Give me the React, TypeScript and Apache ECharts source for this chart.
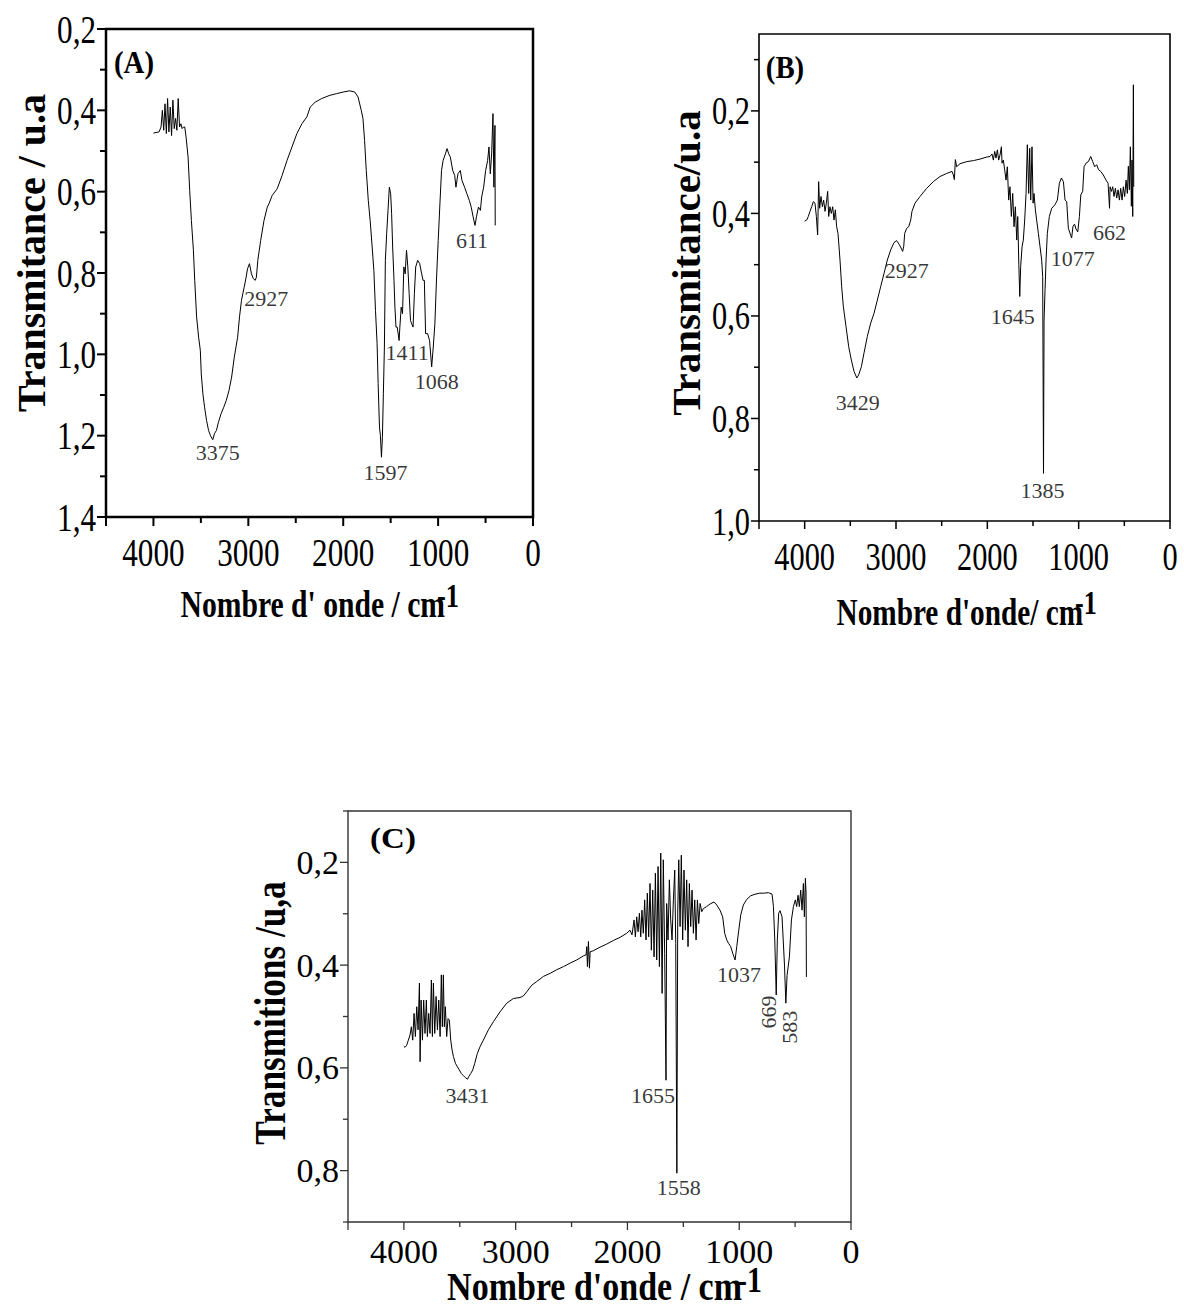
import { useEffect, useRef } from "react";
import * as echarts from "echarts";

// Wavenumber axis (cm-1), shared by the three spectra
const xMajorTicks = [0, 1000, 2000, 3000, 4000];
const xMinorTicks = [500, 1500, 2500, 3500];
const X_MAX = 4500;

// Transmittance axes
const yMajorA = [0.2, 0.4, 0.6, 0.8, 1.0, 1.2, 1.4];
const yMinorA = [0.3, 0.5, 0.7, 0.9, 1.1, 1.3];
const yMajorB = [0.2, 0.4, 0.6, 0.8, 1.0];
const yMinorB = [0.1, 0.3, 0.5, 0.7, 0.9];
const yMajorC = [0.2, 0.4, 0.6, 0.8];
const yMinorC = [0.1, 0.3, 0.5, 0.7, 0.9];

// Spectrum (A): [wavenumber, transmittance]
const spectrumA: [number, number][] = [
  [4000, 0.456], [3941, 0.453], [3920, 0.441], [3906, 0.4], [3892, 0.449], [3878, 0.384], [3864, 0.457],
  [3851, 0.371], [3837, 0.453], [3823, 0.392], [3809, 0.462], [3795, 0.375], [3781, 0.445], [3767, 0.42],
  [3753, 0.449], [3739, 0.371], [3725, 0.441], [3711, 0.433], [3698, 0.445], [3684, 0.441], [3670, 0.441],
  [3656, 0.466], [3635, 0.515], [3618, 0.597], [3600, 0.671], [3579, 0.744], [3565, 0.818], [3545, 0.908],
  [3524, 0.958], [3506, 0.99], [3496, 1.048], [3479, 1.097], [3461, 1.13], [3440, 1.163], [3419, 1.187],
  [3399, 1.2], [3375, 1.21], [3357, 1.195], [3336, 1.187], [3315, 1.167], [3287, 1.146], [3259, 1.13],
  [3232, 1.113], [3204, 1.089], [3176, 1.056], [3148, 1.007], [3113, 0.958], [3093, 0.908], [3072, 0.867],
  [3044, 0.835], [3023, 0.81], [3009, 0.79], [2988, 0.777], [2967, 0.802], [2947, 0.814], [2927, 0.818],
  [2915, 0.81], [2900, 0.769], [2870, 0.72], [2835, 0.671], [2800, 0.638], [2783, 0.63], [2748, 0.609],
  [2696, 0.593], [2644, 0.56], [2592, 0.523], [2540, 0.49], [2488, 0.457], [2435, 0.433], [2383, 0.416],
  [2348, 0.392], [2296, 0.38], [2227, 0.371], [2140, 0.363], [2070, 0.359], [2001, 0.355], [1931, 0.352],
  [1879, 0.355], [1844, 0.367], [1810, 0.4], [1792, 0.42], [1775, 0.474], [1757, 0.548], [1736, 0.621],
  [1716, 0.671], [1695, 0.736], [1677, 0.794], [1660, 0.892], [1643, 0.974], [1632, 1.072], [1618, 1.179],
  [1608, 1.2], [1597, 1.253], [1587, 1.204], [1577, 1.097], [1566, 0.982], [1556, 0.769], [1542, 0.703],
  [1528, 0.646], [1514, 0.589], [1500, 0.605], [1490, 0.654], [1479, 0.736], [1465, 0.818], [1455, 0.884],
  [1444, 0.933], [1431, 0.933], [1411, 0.966], [1403, 0.933], [1389, 0.884], [1375, 0.9], [1361, 0.785],
  [1347, 0.802], [1333, 0.744], [1319, 0.785], [1305, 0.851], [1291, 0.917], [1278, 0.925], [1264, 0.933],
  [1250, 0.851], [1236, 0.785], [1215, 0.769], [1194, 0.777], [1173, 0.802], [1159, 0.818], [1145, 0.818],
  [1132, 0.949], [1111, 0.949], [1090, 0.966], [1068, 1.031], [1051, 0.982], [1034, 0.925], [1016, 0.81],
  [999, 0.72], [981, 0.63], [964, 0.548], [947, 0.523], [923, 0.507], [906, 0.494], [888, 0.507],
  [871, 0.515], [846, 0.548], [825, 0.56], [812, 0.589], [791, 0.556], [766, 0.548], [749, 0.572],
  [721, 0.589], [697, 0.605], [672, 0.621], [651, 0.638], [631, 0.662], [611, 0.683], [596, 0.662],
  [575, 0.638], [554, 0.646], [541, 0.613], [520, 0.589], [499, 0.548], [478, 0.523], [464, 0.49],
  [450, 0.556], [436, 0.507], [422, 0.408], [412, 0.589], [401, 0.437], [398, 0.683],
];

// Spectrum (B)
const spectrumB: [number, number][] = [
  [4000, 0.415], [3978, 0.413], [3960, 0.406], [3942, 0.396], [3923, 0.387], [3905, 0.377], [3887, 0.38],
  [3872, 0.406], [3858, 0.442], [3847, 0.338], [3836, 0.39], [3821, 0.367], [3806, 0.387], [3792, 0.374],
  [3777, 0.396], [3763, 0.38], [3748, 0.357], [3737, 0.406], [3723, 0.387], [3708, 0.4], [3693, 0.387],
  [3679, 0.413], [3664, 0.393], [3650, 0.426], [3635, 0.439], [3613, 0.491], [3595, 0.543], [3577, 0.581],
  [3547, 0.621], [3518, 0.66], [3489, 0.686], [3460, 0.708], [3429, 0.721], [3409, 0.715], [3379, 0.699],
  [3350, 0.672], [3314, 0.64], [3277, 0.614], [3241, 0.595], [3204, 0.569], [3168, 0.543], [3131, 0.517],
  [3095, 0.491], [3058, 0.471], [3022, 0.457], [2993, 0.453], [2963, 0.461], [2927, 0.474], [2915, 0.464],
  [2905, 0.439], [2883, 0.429], [2861, 0.426], [2839, 0.413], [2825, 0.396], [2792, 0.38], [2737, 0.367],
  [2664, 0.351], [2591, 0.338], [2518, 0.328], [2445, 0.322], [2387, 0.318], [2372, 0.325], [2361, 0.334],
  [2350, 0.295], [2336, 0.309], [2299, 0.303], [2226, 0.299], [2153, 0.297], [2080, 0.294], [2007, 0.29],
  [1970, 0.289], [1949, 0.284], [1934, 0.296], [1919, 0.279], [1905, 0.292], [1890, 0.276], [1876, 0.296],
  [1861, 0.286], [1846, 0.27], [1839, 0.302], [1825, 0.296], [1810, 0.315], [1795, 0.335], [1781, 0.309],
  [1766, 0.374], [1752, 0.348], [1737, 0.406], [1722, 0.361], [1708, 0.426], [1693, 0.387], [1678, 0.452],
  [1667, 0.406], [1655, 0.5], [1645, 0.562], [1635, 0.504], [1620, 0.465], [1606, 0.452], [1591, 0.413],
  [1576, 0.361], [1562, 0.266], [1547, 0.361], [1536, 0.273], [1525, 0.374], [1511, 0.27], [1499, 0.38],
  [1489, 0.361], [1474, 0.393], [1460, 0.413], [1441, 0.439], [1423, 0.465], [1405, 0.491], [1394, 0.523],
  [1385, 0.907], [1379, 0.608], [1368, 0.549], [1357, 0.491], [1343, 0.439], [1321, 0.406], [1295, 0.39],
  [1259, 0.383], [1233, 0.374], [1211, 0.341], [1189, 0.331], [1167, 0.338], [1149, 0.374], [1131, 0.377],
  [1113, 0.429], [1077, 0.448], [1062, 0.425], [1045, 0.421], [1030, 0.43], [1010, 0.436], [992, 0.406],
  [977, 0.364], [956, 0.357], [941, 0.309], [919, 0.302], [894, 0.299], [868, 0.289], [846, 0.299],
  [824, 0.309], [803, 0.305], [781, 0.315], [759, 0.318], [730, 0.325], [700, 0.335], [678, 0.341],
  [662, 0.39], [656, 0.348], [641, 0.357], [627, 0.348], [613, 0.367], [598, 0.351], [583, 0.37],
  [569, 0.354], [554, 0.374], [540, 0.351], [525, 0.374], [511, 0.348], [496, 0.367], [481, 0.335],
  [467, 0.361], [456, 0.308], [445, 0.354], [434, 0.27], [423, 0.386], [416, 0.296], [408, 0.406],
  [401, 0.149], [397, 0.348],
];

// Spectrum (C)
const spectrumC: [number, number][] = [
  [4000, 0.558], [3990, 0.56], [3975, 0.556], [3960, 0.546], [3945, 0.536], [3933, 0.52], [3921, 0.546],
  [3909, 0.494], [3897, 0.539], [3885, 0.481], [3873, 0.526], [3861, 0.435], [3855, 0.588], [3846, 0.468],
  [3834, 0.546], [3823, 0.468], [3811, 0.533], [3799, 0.468], [3790, 0.539], [3778, 0.494], [3766, 0.533],
  [3754, 0.429], [3745, 0.539], [3736, 0.435], [3724, 0.533], [3712, 0.461], [3700, 0.526], [3688, 0.468],
  [3676, 0.539], [3665, 0.419], [3656, 0.52], [3647, 0.419], [3638, 0.52], [3629, 0.481], [3617, 0.539],
  [3605, 0.504], [3593, 0.507], [3581, 0.546], [3569, 0.565], [3557, 0.578], [3539, 0.591], [3521, 0.598],
  [3504, 0.604], [3486, 0.611], [3468, 0.615], [3450, 0.619], [3431, 0.622], [3420, 0.617], [3402, 0.611],
  [3384, 0.604], [3366, 0.591], [3343, 0.572], [3319, 0.559], [3289, 0.546], [3244, 0.526], [3199, 0.51],
  [3140, 0.491], [3080, 0.474], [3020, 0.465], [2961, 0.463], [2931, 0.46], [2901, 0.452], [2856, 0.439],
  [2812, 0.432], [2752, 0.422], [2692, 0.416], [2633, 0.409], [2573, 0.403], [2513, 0.396], [2454, 0.39],
  [2394, 0.382], [2370, 0.38], [2364, 0.364], [2358, 0.403], [2349, 0.354], [2340, 0.406], [2334, 0.374],
  [2305, 0.372], [2245, 0.365], [2185, 0.359], [2126, 0.352], [2066, 0.346], [2007, 0.338], [1977, 0.332],
  [1959, 0.341], [1941, 0.312], [1929, 0.345], [1917, 0.306], [1905, 0.335], [1893, 0.299], [1881, 0.345],
  [1870, 0.293], [1858, 0.338], [1846, 0.273], [1834, 0.351], [1822, 0.26], [1810, 0.345], [1798, 0.241],
  [1786, 0.371], [1774, 0.254], [1762, 0.384], [1750, 0.221], [1738, 0.39], [1726, 0.208], [1714, 0.403],
  [1702, 0.182], [1690, 0.455], [1679, 0.195], [1667, 0.377], [1655, 0.624], [1649, 0.28], [1637, 0.351],
  [1625, 0.234], [1613, 0.312], [1601, 0.351], [1589, 0.273], [1577, 0.215], [1568, 0.358], [1558, 0.805],
  [1550, 0.299], [1541, 0.195], [1529, 0.325], [1518, 0.186], [1506, 0.351], [1494, 0.215], [1482, 0.332],
  [1470, 0.234], [1458, 0.364], [1446, 0.241], [1434, 0.325], [1422, 0.254], [1410, 0.338], [1398, 0.273],
  [1386, 0.351], [1374, 0.273], [1362, 0.319], [1350, 0.28], [1335, 0.296], [1321, 0.29], [1291, 0.286],
  [1261, 0.281], [1225, 0.277], [1201, 0.283], [1172, 0.293], [1148, 0.306], [1130, 0.338], [1112, 0.351],
  [1094, 0.358], [1076, 0.364], [1058, 0.377], [1037, 0.39], [1022, 0.364], [1004, 0.332], [986, 0.302],
  [963, 0.283], [933, 0.272], [897, 0.265], [859, 0.262], [819, 0.26], [784, 0.26], [739, 0.259],
  [706, 0.262], [694, 0.286], [682, 0.351], [669, 0.458], [659, 0.351], [647, 0.299], [635, 0.294],
  [617, 0.306], [595, 0.4], [583, 0.474], [572, 0.42], [551, 0.384], [533, 0.312], [515, 0.286],
  [498, 0.273], [486, 0.286], [474, 0.264], [462, 0.286], [450, 0.254], [438, 0.293], [426, 0.241],
  [417, 0.306], [408, 0.231], [402, 0.26], [399, 0.423],
];

// Assigned bands: wavenumber and transmittance at the band
const peakWnA = [3375, 2927, 1597, 1411, 1068, 611];
const peakTA = [1.21, 0.818, 1.253, 0.966, 1.031, 0.683];
const peakWnB = [3429, 2927, 1645, 1385, 1077, 662];
const peakTB = [0.721, 0.474, 0.562, 0.907, 0.448, 0.39];
const peakWnC = [3431, 1655, 1558, 1037, 669, 583];
const peakTC = [0.622, 0.624, 0.805, 0.39, 0.458, 0.474];

const SERIF = "'Liberation Serif', 'Times New Roman', serif";

type PanelStyle = {
  grid: { left: number; top: number; width: number; height: number };
  yMin: number;
  yMax: number;
  yMajor: number[];
  yMinor: number[];
  data: [number, number][];
  peakWn: number[];
  peakT: number[];
  labelOffsets: [number, number][];
  labelRotate: number[];
  frameColor: string;
  frameWidth: number;
  tickWidth: number;
  majorLen: number;
  minorLen: number;
  tickFont: number;
  tickScale: number;
  xLabelGap: number;
  yLabelGap: number;
  peakFont: number;
};

const panels: PanelStyle[] = [
  {
    grid: { left: 106, top: 29, width: 427, height: 488 },
    yMin: 0.2, yMax: 1.4, yMajor: yMajorA, yMinor: yMinorA,
    data: spectrumA, peakWn: peakWnA, peakT: peakTA,
    labelOffsets: [[5, 13], [11, 18], [4, 15], [8, 12], [5, 15], [-3, 15]],
    labelRotate: [0, 0, 0, 0, 0, 0],
    frameColor: "#000", frameWidth: 2.5, tickWidth: 2, majorLen: 9, minorLen: 6,
    tickFont: 41, tickScale: 0.76, xLabelGap: 35, yLabelGap: 10, peakFont: 22,
  },
  {
    grid: { left: 759, top: 34, width: 411, height: 487 },
    yMin: 0.05, yMax: 1.0, yMajor: yMajorB, yMinor: yMinorB,
    data: spectrumB, peakWn: peakWnB, peakT: peakTB,
    labelOffsets: [[1, 25], [4, 19], [-7, 20], [-1, 17], [1, 20], [0, 24]],
    labelRotate: [0, 0, 0, 0, 0, 0],
    frameColor: "#000", frameWidth: 1.6, tickWidth: 1.5, majorLen: 8, minorLen: 5,
    tickFont: 40, tickScale: 0.76, xLabelGap: 35, yLabelGap: 9, peakFont: 22,
  },
  {
    grid: { left: 348, top: 811, width: 503, height: 411 },
    yMin: 0.1, yMax: 0.9, yMajor: yMajorC, yMinor: yMinorC,
    data: spectrumC, peakWn: peakWnC, peakT: peakTC,
    // rotated labels take their offset in the label's own (rotated) frame
    labelOffsets: [[0, 16], [-13, 15], [2, 14], [4, 15], [-17, -8], [-24, 4]],
    labelRotate: [0, 0, 0, 0, 90, 90],
    frameColor: "#333", frameWidth: 1.4, tickWidth: 1.3, majorLen: 8, minorLen: 5,
    tickFont: 34, tickScale: 1, xLabelGap: 29, yLabelGap: 9, peakFont: 22,
  },
];

const decimalComma = (v: number) => v.toFixed(1).replace(".", ",");

type TextOpts = {
  bold?: boolean;
  align?: string;
  vAlign?: string;
  rotation?: number;
  scaleX?: number;
};

const txt = (text: string, x: number, y: number, size: number, opts: TextOpts = {}) => ({
  type: "text",
  x,
  y,
  rotation: opts.rotation ?? 0,
  scaleX: opts.scaleX ?? 1,
  silent: true,
  style: {
    text,
    fontFamily: SERIF,
    fontSize: size,
    fontWeight: opts.bold === false ? "normal" : "bold",
    fill: "#000",
    align: opts.align ?? "center",
    verticalAlign: opts.vAlign ?? "middle",
  },
});

// Tick marks along the bottom (x) and left (y) edges of a panel, as one
// custom series: each item is [wavenumber, transmittance, length, edge]
function tickSeries(p: PanelStyle, i: number) {
  const items: number[][] = [
    ...[...xMajorTicks, X_MAX].map((v) => [v, p.yMax, p.majorLen, 0]),
    ...xMinorTicks.map((v) => [v, p.yMax, p.minorLen, 0]),
    ...p.yMajor.map((v) => [X_MAX, v, p.majorLen, 1]),
    ...p.yMinor.map((v) => [X_MAX, v, p.minorLen, 1]),
  ];
  return {
    type: "custom",
    xAxisIndex: i,
    yAxisIndex: i,
    clip: false,
    silent: true,
    dimensions: ["wn", "t", "len", "edge"],
    encode: { x: "wn", y: "t" },
    data: items,
    renderItem: (params: any, api: any) => {
      const cs = params.coordSys;
      const pt = api.coord([api.value(0), api.value(1)]);
      const len = api.value(2);
      const shape =
        api.value(3) === 0
          ? { x1: pt[0], y1: cs.y + cs.height, x2: pt[0], y2: cs.y + cs.height + len }
          : { x1: cs.x, y1: pt[1], x2: cs.x - len, y2: pt[1] };
      return {
        type: "line",
        shape,
        style: { stroke: p.frameColor, lineWidth: p.tickWidth },
      };
    },
  };
}

function buildOption() {
  const grid: any[] = [];
  const xAxis: any[] = [];
  const yAxis: any[] = [];
  const series: any[] = [];

  panels.forEach((p, i) => {
    grid.push({
      ...p.grid,
      show: true,
      borderColor: p.frameColor,
      borderWidth: p.frameWidth,
      backgroundColor: "transparent",
    });
    xAxis.push({
      gridIndex: i, type: "value", min: 0, max: X_MAX, inverse: true, position: "bottom",
      axisLine: { show: false, onZero: false }, splitLine: { show: false },
      axisLabel: { show: false }, axisTick: { show: false }, minorTick: { show: false },
    });
    yAxis.push({
      gridIndex: i, type: "value", min: p.yMin, max: p.yMax, inverse: true, position: "left",
      axisLine: { show: false, onZero: false }, splitLine: { show: false },
      axisLabel: { show: false }, axisTick: { show: false }, minorTick: { show: false },
    });
  });

  panels.forEach((p, i) => {
    series.push({
      type: "line",
      xAxisIndex: i,
      yAxisIndex: i,
      data: p.data,
      showSymbol: false,
      symbol: "none",
      silent: true,
      lineStyle: { color: "#000", width: 1 },
    });
    series.push({
      type: "scatter",
      xAxisIndex: i,
      yAxisIndex: i,
      symbolSize: 1,
      silent: true,
      itemStyle: { color: "rgba(0,0,0,0)" },
      data: p.peakWn.map((wn, k) => ({
        value: [wn, p.peakT[k]],
        label: { offset: p.labelOffsets[k], rotate: p.labelRotate[k] },
      })),
      label: {
        show: true,
        position: "inside",
        formatter: (d: any) => String(d.value[0]),
        fontFamily: SERIF,
        fontSize: p.peakFont,
        color: "#000",
      },
    });
    series.push(tickSeries(p, i));
  });

  return { animation: false, backgroundColor: "#fff", grid, xAxis, yAxis, series };
}

// Fixed captions: panel letters and axis titles
function captionGraphics() {
  return [
    txt("(A)", 134, 62, 32, { scaleX: 0.9 }),
    txt("(B)", 785, 67, 32, { scaleX: 0.9 }),
    txt("(C)", 393, 838, 30, { scaleX: 1.1 }),
    txt("Transmitance / u.a", 31, 253, 40, { rotation: Math.PI / 2 }),
    txt("Transmitance/u.a", 686, 263, 41, { rotation: Math.PI / 2 }),
    txt("Transmitions /u,a", 270, 1013, 44, { rotation: Math.PI / 2, scaleX: 0.8 }),
    txt("Nombre d' onde / cm", 445, 604, 38, { align: "right", scaleX: 0.78 }),
    txt("-1", 437, 596, 34, { align: "left", scaleX: 0.78 }),
    txt("Nombre d'onde/ cm", 1083, 612, 38, { align: "right", scaleX: 0.77 }),
    txt("-1", 1075, 603, 34, { align: "left", scaleX: 0.77 }),
    txt("Nombre d'onde / cm", 742, 1287, 40, { align: "right", scaleX: 0.85 }),
    txt("-1", 737, 1280, 36, { align: "left", scaleX: 0.83 }),
  ];
}

// Narrow serif tick labels, placed at the axes' own pixel positions
function tickLabelGraphics(chart: echarts.ECharts) {
  const out: any[] = [];
  panels.forEach((p, i) => {
    const finder = { xAxisIndex: i, yAxisIndex: i };
    xMajorTicks.forEach((v) => {
      const pt = chart.convertToPixel(finder, [v, p.yMax]) as number[];
      out.push(txt(String(v), pt[0], pt[1] + p.xLabelGap, p.tickFont, { bold: false, scaleX: p.tickScale }));
    });
    p.yMajor.forEach((v) => {
      const pt = chart.convertToPixel(finder, [X_MAX, v]) as number[];
      out.push(
        txt(decimalComma(v), pt[0] - p.yLabelGap, pt[1], p.tickFont, {
          bold: false,
          align: "right",
          scaleX: p.tickScale,
        })
      );
    });
  });
  return out;
}

export default function App() {
  const ref = useRef<HTMLDivElement>(null);
  useEffect(() => {
    if (!ref.current) return;
    const chart = echarts.init(ref.current, null, { renderer: "svg" });
    chart.setOption(buildOption() as any);
    chart.setOption({ graphic: [...captionGraphics(), ...tickLabelGraphics(chart)] } as any);
    return () => chart.dispose();
  }, []);
  return (
    <div
      ref={ref}
      style={{ position: "absolute", left: 0, top: 0, width: 1184, height: 1314, background: "#fff" }}
    />
  );
}
